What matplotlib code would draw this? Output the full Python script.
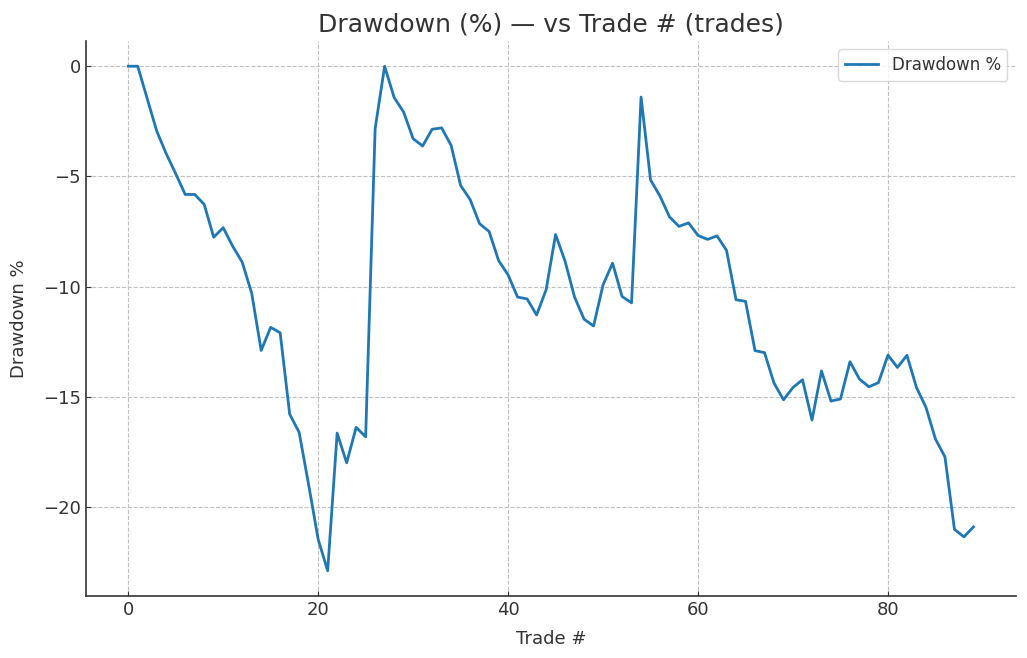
import numpy as np
import matplotlib.pyplot as plt

trades = np.arange(90)
drawdown = [
    0.0, 0.0, -1.47, -2.94, -3.97, -4.88, -5.82, -5.82, -6.27, -7.76,
    -7.33, -8.17, -8.89, -10.3, -12.9, -11.85, -12.1, -15.79, -16.62, -19.0,
    -21.47, -22.9, -16.65, -18.0, -16.39, -16.82, -2.83, 0.0, -1.42, -2.08,
    -3.29, -3.62, -2.86, -2.80, -3.59, -5.41, -6.05, -7.15, -7.5, -8.82,
    -9.47, -10.48, -10.56, -11.29, -10.15, -7.64, -8.85, -10.48, -11.48, -11.79,
    -9.92, -8.94, -10.45, -10.74, -1.40, -5.16, -5.9, -6.84, -7.27, -7.11,
    -7.68, -7.86, -7.70, -8.36, -10.6, -10.67, -12.91, -13.0, -14.38, -15.14,
    -14.58, -14.23, -16.06, -13.83, -15.2, -15.1, -13.41, -14.2, -14.55, -14.36,
    -13.11, -13.67, -13.12, -14.58, -15.48, -16.92, -17.73, -21.02, -21.36, -20.91,
]

text_color = "#333333"
fig = plt.figure(figsize=(10.27, 6.58), dpi=100)
ax = fig.add_axes([0.0837, 0.0942, 0.9053, 0.8435])

ax.plot(trades, drawdown, color="#1f77b4", linewidth=2, label="Drawdown %")

ax.set_title("Drawdown (%) — vs Trade # (trades)", fontsize=18, color=text_color, pad=7)
ax.set_xlabel("Trade #", fontsize=13, color=text_color, labelpad=8)
ax.set_ylabel("Drawdown %", fontsize=13, color=text_color, labelpad=11)
ax.tick_params(labelsize=13, colors=text_color, direction="in", length=3.5)
ax.grid(True, linestyle="--", color="#c0c0c0", linewidth=0.8)
ax.spines["top"].set_visible(False)
ax.spines["right"].set_visible(False)
for s in ["left", "bottom"]:
    ax.spines[s].set_color(text_color)
    ax.spines[s].set_linewidth(1.2)
leg = ax.legend(loc="upper right", fontsize=12, labelcolor=text_color, handlelength=2.0)
leg.get_frame().set_edgecolor("#d0d0d0")

fig.savefig("out.png", dpi=100)
